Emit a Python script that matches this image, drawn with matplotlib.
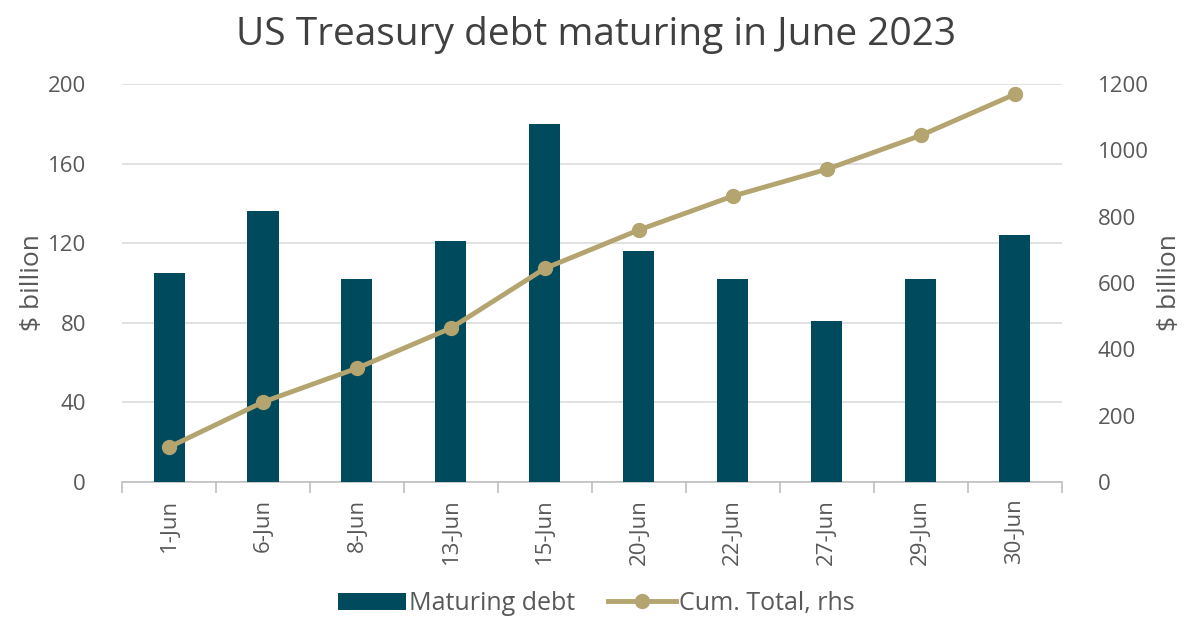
import matplotlib
matplotlib.use("Agg")
import matplotlib.pyplot as plt
import numpy as np

categories = ["1-Jun", "6-Jun", "8-Jun", "13-Jun", "15-Jun", "20-Jun", "22-Jun", "27-Jun", "29-Jun", "30-Jun"]
maturing = [105, 136, 102, 121, 180, 116, 102, 81, 102, 124]
cum_total = [105, 241, 343, 464, 644, 760, 862, 943, 1045, 1169]
left_ticks = [0, 40, 80, 120, 160, 200]
right_ticks = [0, 200, 400, 600, 800, 1000, 1200]

plt.rcParams['font.family'] = ['Open Sans', 'DejaVu Sans']
txt = "#595959"
bar_c = "#004a5e"
line_c = "#b4a46f"

fig = plt.figure(figsize=(11.93, 6.2), dpi=100)
ax = fig.add_axes([0.1023, 0.2226, 0.7877, 0.6419])
x = np.arange(len(categories))
ax.bar(x, maturing, width=0.33, color=bar_c, zorder=3, label="Maturing debt")
ax.set_ylim(0, 200)
ax.set_xlim(-0.5, len(categories) - 0.5)
ax.set_yticks(left_ticks)
ax.yaxis.grid(True, color="#dcdcdc", linewidth=1.2, zorder=0)
ax.set_axisbelow(True)
for s in ["top", "left", "right"]:
    ax.spines[s].set_visible(False)
ax.spines["bottom"].set_color("#bfbfbf")
ax.spines["bottom"].set_linewidth(1.2)
ax.tick_params(axis="y", length=0, pad=26, labelsize=16, labelcolor=txt)
ax.set_xticks(x)
ax.set_xticklabels(categories, rotation=90, fontsize=16, color=txt)
ax.tick_params(axis="x", which="major", length=0, pad=12)
ax.set_xticks(np.arange(-0.5, len(categories), 1), minor=True)
ax.tick_params(axis="x", which="minor", length=8, color="#bfbfbf", width=1.2)
ax.set_ylabel("$ billion", fontsize=19, color=txt, labelpad=2)

ax2 = ax.twinx()
ax2.plot(x, cum_total, color=line_c, linewidth=3.5, marker="o", markersize=10, zorder=4, label="Cum. Total, rhs")
ax2.set_ylim(0, 1200)
ax2.set_yticks(right_ticks)
for s in ["top", "left", "right", "bottom"]:
    ax2.spines[s].set_visible(False)
ax2.tick_params(axis="y", length=0, pad=26, labelsize=16, labelcolor=txt)
ax2.set_ylabel("$ billion", fontsize=19, color=txt, labelpad=6)

fig.suptitle("US Treasury debt maturing in June 2023", fontsize=28, color="#404040", y=0.975)

h1, l1 = ax.get_legend_handles_labels()
h2, l2 = ax2.get_legend_handles_labels()
leg = fig.legend(h1 + h2, l1 + l2, loc="lower center", bbox_to_anchor=(0.5, -0.03), ncol=2,
                 frameon=False, fontsize=18, handlelength=2.7, columnspacing=1.3, handletextpad=0.15)
for t in leg.get_texts():
    t.set_color(txt)

fig.savefig("out.png", dpi=100)
